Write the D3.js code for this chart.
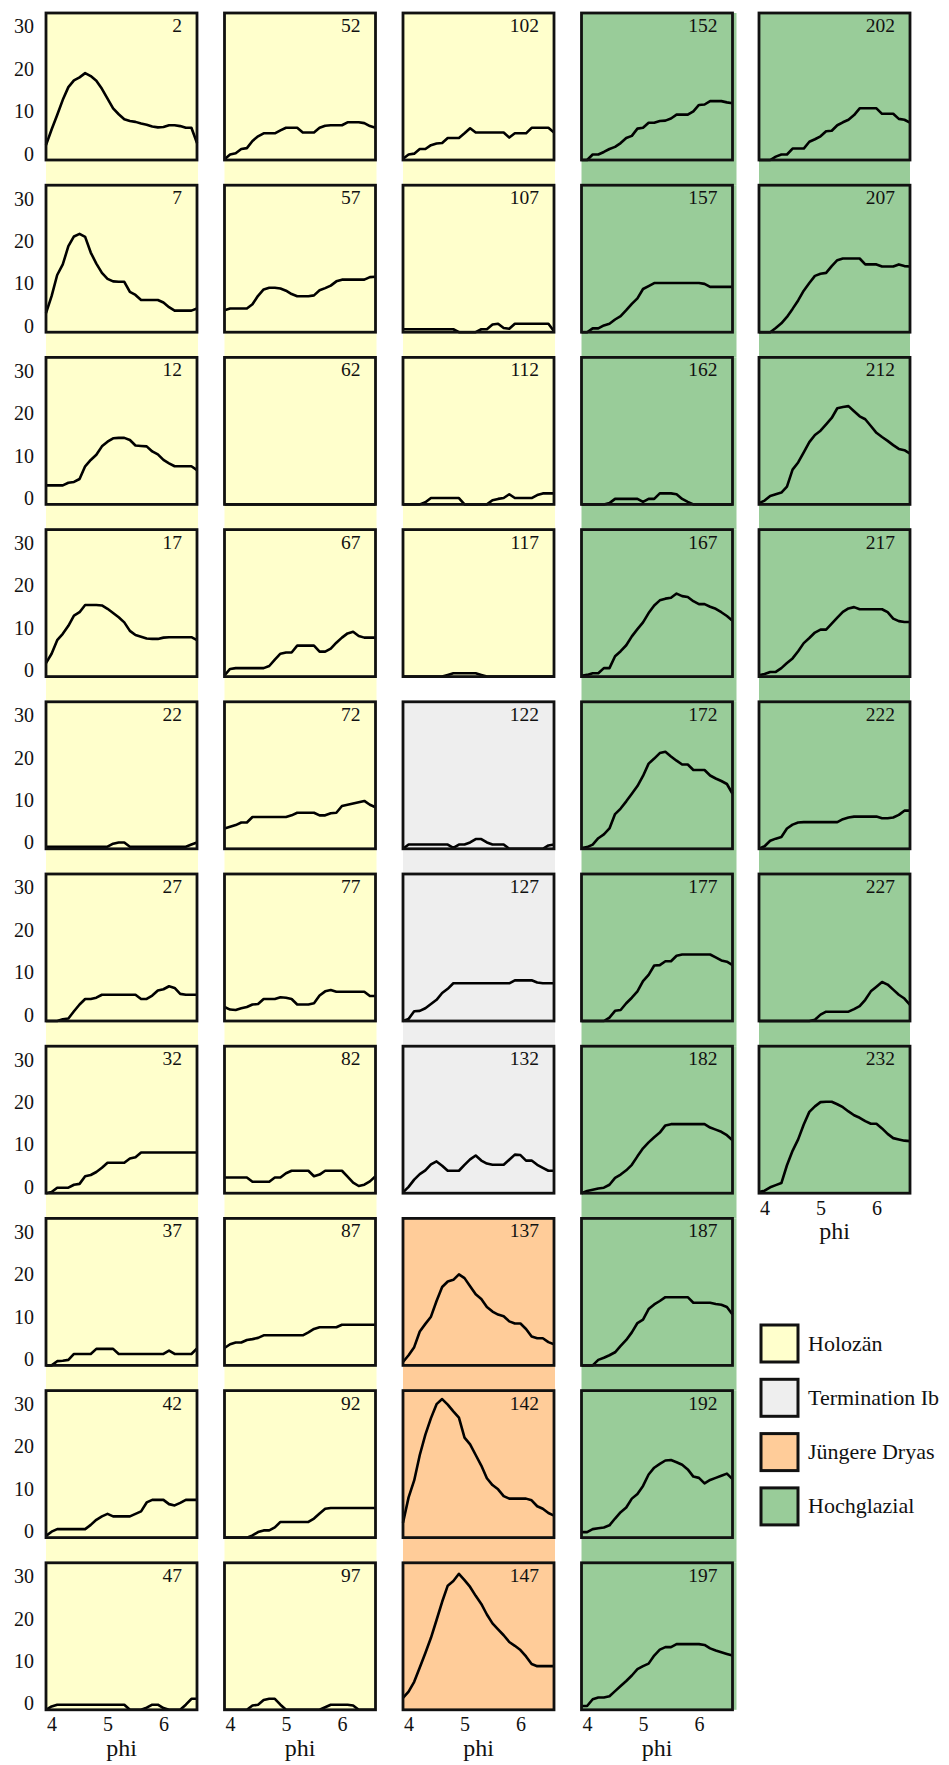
<!DOCTYPE html>
<html><head><meta charset="utf-8">
<script src="https://cdn.jsdelivr.net/npm/d3@7/dist/d3.min.js"></script>
<style>
body{margin:0;background:#fff}
</style>
</head><body>
<svg id="chart" width="949" height="1765" font-family="Liberation Serif, Times New Roman, serif"></svg>
<script>
// phi grid (x values shared by all samples)
const phi = [3.9,4.0,4.1,4.2,4.3,4.4,4.5,4.6,4.7,4.8,4.9,5.0,5.1,5.2,5.3,5.4,5.5,5.6,5.7,5.8,5.9,6.0,6.1,6.2,6.3,6.4,6.5,6.6];
const xTicks = [4,5,6];
const yTicks = [0,10,20,30];
const groupNames = ["Holozän","Termination Ib","Jüngere Dryas","Hochglazial"];
const groupColors = ["#FFFFCC","#EEEEEE","#FFCC99","#99CC99"];
const sampleIds = [2,7,12,17,22,27,32,37,42,47,52,57,62,67,72,77,82,87,92,97,102,107,112,117,122,127,132,137,142,147,152,157,162,167,172,177,182,187,192,197,202,207,212,217,222,227,232];
const sampleGroups = [0,0,0,0,0,0,0,0,0,0, 0,0,0,0,0,0,0,0,0,0, 0,0,0,0,1,1,1,2,2,2, 3,3,3,3,3,3,3,3,3,3, 3,3,3,3,3,3,3];

const s2  = [3.5,7.2,10.6,14.2,17.2,18.8,19.5,20.5,19.8,18.7,16.8,14.5,12.2,10.8,9.6,9.2,9.0,8.6,8.3,7.9,7.7,7.8,8.2,8.2,8.0,7.6,7.6,4.0];
const s7  = [4.5,8.5,13.5,16,20.3,22.6,23.2,22.5,18.8,16.2,14,12.6,12,11.9,11.9,9.5,8.8,7.6,7.6,7.6,7.6,7,5.9,5.1,5.1,5.1,5.1,5.6];
const s12 = [4.5,4.5,4.5,4.5,5.1,5.3,6.0,9.0,10.5,11.7,13.7,14.8,15.6,15.7,15.7,15.2,13.9,13.8,13.7,12.5,11.8,10.5,9.7,9.0,9.0,9.0,9.0,8.1];
const s17 = [3.2,5.4,8.6,10.1,12.0,14.4,15.2,16.9,16.9,16.9,16.8,16.0,15.0,14.0,12.8,10.8,9.8,9.4,9.0,8.9,8.9,9.2,9.3,9.3,9.3,9.3,9.3,8.6];
const s22 = [0.5,0.5,0.5,0.5,0.5,0.5,0.5,0.5,0.5,0.5,0.5,0.5,1.2,1.5,1.5,0.5,0.5,0.5,0.5,0.5,0.5,0.5,0.5,0.5,0.5,0.5,1.0,1.5];
const s27 = [0,0,0,0.4,0.6,2.3,3.9,5.2,5.2,5.5,6.2,6.2,6.2,6.2,6.2,6.2,6.2,5.2,5.2,6.0,7.2,7.5,8.2,7.8,6.4,6.2,6.2,6.2];
const s32 = [0,0.3,1.3,1.3,1.3,2.0,2.2,4.0,4.3,5.0,6.0,7.2,7.2,7.2,7.2,8.2,8.5,9.6,9.6,9.6,9.6,9.6,9.6,9.6,9.6,9.6,9.6,9.6];
const s37 = [0,0,1.0,1.1,1.3,2.7,2.7,2.7,2.7,3.9,3.9,3.9,3.9,2.7,2.7,2.7,2.7,2.7,2.7,2.7,2.7,2.7,3.5,2.7,2.7,2.7,2.7,4.0];
const s42 = [0.4,1.4,2.0,2.0,2.0,2.0,2.0,2.0,3.0,4.2,5.0,5.6,5.0,5.0,5.0,5.0,5.6,6.2,8.3,8.9,8.9,8.9,7.9,7.6,8.2,8.9,8.9,8.9];
const s47 = [0,0.8,1.2,1.2,1.2,1.2,1.2,1.2,1.2,1.2,1.2,1.2,1.2,1.2,1.2,0,0,0,0.5,1.2,1.2,0.4,0,0,0,1.2,2.6,2.6];
const s52 = [0.2,1.3,1.6,2.6,2.8,4.5,5.6,6.3,6.3,6.3,7.0,7.6,7.6,7.6,6.5,6.5,6.5,7.6,8.1,8.2,8.2,8.2,8.9,8.9,8.9,8.7,8.0,7.6];
const s57 = [5.2,5.6,5.6,5.6,5.6,6.6,8.6,10.1,10.5,10.5,10.3,9.8,9.0,8.5,8.5,8.5,8.7,9.9,10.4,11.0,12.0,12.4,12.4,12.4,12.4,12.4,13.0,13.1];
const s62 = [0,0,0,0,0,0,0,0,0,0,0,0,0,0,0,0,0,0,0,0,0,0,0,0,0,0,0,0];
const s67 = [0.3,1.8,2.0,2.0,2.0,2.0,2.0,2.0,2.5,4.0,5.4,5.7,5.7,7.3,7.3,7.3,7.3,5.9,5.9,6.6,8.0,9.2,10.2,10.6,9.6,9.2,9.2,9.2];
const s72 = [4.8,5.2,5.6,6.2,6.2,7.5,7.5,7.5,7.5,7.5,7.5,7.5,7.9,8.5,8.5,8.5,8.5,7.9,7.9,8.4,8.5,10.1,10.4,10.7,11.0,11.3,10.4,9.8];
const s77 = [3.3,2.7,2.6,3.0,3.3,3.9,4.0,5.2,5.2,5.2,5.6,5.5,5.2,3.9,3.9,3.9,4.2,6.0,7.0,7.3,6.9,6.9,6.9,6.9,6.9,6.9,5.9,5.9];
const s82 = [3.7,3.7,3.7,3.7,3.7,2.7,2.7,2.7,2.7,3.7,3.7,4.7,5.3,5.3,5.3,5.3,4.0,4.4,5.3,5.3,5.3,5.3,3.9,2.5,1.7,2.0,2.8,4.0];
const s87 = [4.1,5.0,5.4,5.4,6.0,6.2,6.5,7.1,7.1,7.1,7.1,7.1,7.1,7.1,7.1,7.8,8.6,9.0,9.0,9.0,9.0,9.6,9.6,9.6,9.6,9.6,9.6,9.6];
const s92 = [0,0,0,0,0,0.5,1.3,1.7,1.7,2.4,3.7,3.7,3.7,3.7,3.7,3.7,4.5,5.7,6.8,7.0,7.0,7.0,7.0,7.0,7.0,7.0,7.0,7.0];
const s97 = [0,0,0,0,0,1.0,1.2,2.3,2.6,2.6,1.2,0,0,0,0,0,0,0,0.6,1.2,1.2,1.2,1.2,1.0,0,0,0,0];
const s102 = [0.3,1.3,1.5,2.6,2.6,3.5,3.9,4.0,5.2,5.2,5.2,6.3,7.5,6.5,6.5,6.5,6.5,6.5,6.5,5.3,6.3,6.3,6.3,7.6,7.6,7.6,7.6,6.5];
const s107 = [0.7,0.7,0.7,0.7,0.7,0.7,0.7,0.7,0.7,0.7,0,0,0,0,0.7,0.7,1.8,2.0,1.0,0.8,2.0,2.0,2.0,2.0,2.0,2.0,2.0,0.2];
const s112 = [0,0,0,0,0.5,1.5,1.5,1.5,1.5,1.5,1.5,0,0,0,0,0,1.0,1.3,1.5,2.4,1.5,1.5,1.5,1.5,2.2,2.6,2.6,2.6];
const s117 = [0,0,0,0,0,0,0,0,0.4,0.8,0.8,0.8,0.8,0.8,0.4,0,0,0,0,0,0,0,0,0,0,0,0,0];
const s122 = [0,1.0,1.0,1.0,1.0,1.0,1.0,1.0,1.0,0.2,1.0,1.0,1.5,2.3,2.3,1.5,1.0,1.0,1.0,0,0,0,0,0,0,0,0.8,1.0];
const s127 = [0,0.5,2.3,2.4,3.0,4.0,5.0,6.6,7.6,8.9,8.9,8.9,8.9,8.9,8.9,8.9,8.9,8.9,8.9,8.9,9.6,9.6,9.6,9.6,9.1,8.9,8.9,8.9];
const s132 = [0.2,1.5,3.2,4.5,5.4,6.8,7.5,6.5,5.3,5.3,5.3,6.7,8.0,8.9,7.7,7.0,6.7,6.7,6.7,7.9,9.1,9.0,7.7,7.7,6.7,6.0,5.3,5.3];
const s137 = [0.8,2.4,4.3,8.0,9.8,11.5,15.2,18.5,19.8,20.2,21.5,20.6,18.7,16.8,15.7,13.8,12.7,12.0,11.6,10.4,9.9,9.9,8.6,6.8,6.4,6.4,5.5,5.0];
const s142 = [3.5,9.5,13.5,19.5,24.3,28.2,31.5,32.7,31.4,29.8,28.3,23.6,22.0,19.5,17.0,14.0,12.4,11.4,9.8,9.2,9.2,9.2,9.2,8.8,7.4,6.8,5.8,5.2];
const s147 = [2.8,4.3,6.6,10.0,13.4,17.0,21.2,25.5,29.3,30.4,32.1,30.6,29.0,26.9,25.0,22.5,20.4,19.0,17.6,16.0,15.1,14.1,12.6,10.8,10.3,10.3,10.3,10.3];
const s152 = [0,0,1.3,1.3,1.9,2.6,3.1,4.0,5.2,5.7,7.4,7.6,8.8,8.8,9.2,9.3,9.8,10.7,10.7,10.7,11.5,13.0,13.1,13.9,13.9,13.9,13.6,13.4];
const s157 = [0,0,0.9,0.9,1.6,2.0,3.0,3.8,5.2,6.7,8.0,10.2,10.9,11.6,11.6,11.6,11.6,11.6,11.6,11.6,11.6,11.6,11.4,10.7,10.7,10.7,10.7,10.7];
const s162 = [0,0,0,0,0,0.3,1.3,1.3,1.3,1.3,1.3,0.6,1.3,1.3,2.6,2.6,2.6,2.4,1.3,0.6,0,0,0,0,0,0,0,0];
const s167 = [0.2,0.4,0.8,0.8,2.0,2.0,4.8,6.0,7.4,9.5,11.2,12.8,15.0,16.8,18.0,18.4,18.6,19.6,19.0,18.8,17.8,17.1,17.1,16.5,16.0,15.2,14.3,13.2];
const s172 = [0.2,0.4,1.0,2.5,3.4,4.8,8.2,9.5,11.2,13.0,14.8,17.2,20.1,21.3,22.6,22.9,21.8,20.8,19.9,19.9,18.6,18.6,18.6,17.3,16.6,16.0,15.3,13.0];
const s177 = [0,0,0,0,0,0.8,2.4,2.6,4.2,5.5,7.0,9.4,10.9,13.1,13.2,14.1,14.1,15.4,15.7,15.7,15.7,15.7,15.7,15.7,15.0,14.3,14.0,13.2];
const s182 = [0,0.5,0.8,1.1,1.3,2.0,3.6,4.4,5.4,6.7,8.7,10.6,12.0,13.2,14.3,16.0,16.3,16.3,16.3,16.3,16.3,16.3,16.3,15.5,15.0,14.5,13.7,12.5];
const s187 = [0,0,0,1.3,1.8,2.4,3.1,4.6,6.0,7.8,10.0,10.8,13.3,14.4,15.2,16.1,16.1,16.1,16.1,16.1,14.8,14.8,14.8,14.8,14.5,14.3,13.8,12.0];
const s192 = [1.3,1.3,2.0,2.2,2.4,2.9,4.5,6.0,7.1,9.2,10.3,12.2,14.9,16.5,17.4,18.2,18.3,17.8,17.2,16.1,14.4,14.1,12.8,13.6,14.1,14.6,15.1,13.8];
const s197 = [0.9,0.9,2.5,2.9,2.9,3.2,4.4,5.6,6.8,8.1,9.6,10.3,10.9,12.8,14.2,14.8,14.8,15.5,15.5,15.5,15.5,15.5,15.3,14.5,14.0,13.6,13.2,12.8];
const s202 = [0,0,0,0.8,1.3,1.3,2.7,2.7,2.7,4.3,4.9,5.6,6.8,6.9,8.2,8.9,9.5,10.6,12.2,12.2,12.2,12.2,10.9,10.9,10.9,9.7,9.5,8.8];
const s207 = [0,0,0,1.0,2.1,3.6,5.5,7.5,9.8,11.6,13.3,13.8,14.0,15.6,17.0,17.4,17.4,17.4,17.4,16.0,16.0,16.0,15.5,15.5,15.5,16.0,15.6,15.5];
const s212 = [0.3,0.9,2.0,2.4,2.8,4.2,8.2,9.9,12.3,14.7,16.4,17.4,18.9,20.4,22.7,23.0,23.2,22.0,20.8,20.1,18.5,16.9,15.9,15.0,14.0,13.1,12.8,12.0];
const s217 = [0.3,0.6,1.1,1.1,2.0,3.2,4.3,6.0,7.9,9.1,10.4,11.1,11.1,12.5,13.9,15.3,16.1,16.4,15.9,15.9,15.9,15.9,15.9,15.2,13.7,13.1,12.9,12.9];
const s222 = [0,0.6,1.9,2.4,2.8,4.8,5.7,6.2,6.3,6.3,6.3,6.3,6.3,6.3,6.3,7.0,7.4,7.6,7.6,7.6,7.6,7.6,7.2,7.2,7.4,8.0,9.0,9.0];
const s227 = [0,0,0,0,0,0,0,0,0,0,0.3,1.5,2.2,2.2,2.2,2.2,2.2,2.8,3.5,5.0,7.0,8.1,9.2,8.6,7.4,6.2,5.3,3.8];
const s232 = [0.3,0.6,1.4,1.9,2.4,6.6,10.0,12.7,16.2,19.2,20.5,21.5,21.6,21.6,21.0,20.3,19.3,18.4,17.8,17.0,16.4,16.4,15.3,14.0,13.0,12.7,12.4,12.3];

const seriesList = [s2,s7,s12,s17,s22,s27,s32,s37,s42,s47,s52,s57,s62,s67,s72,s77,s82,s87,s92,s97,
  s102,s107,s112,s117,s122,s127,s132,s137,s142,s147,s152,s157,s162,s167,s172,s177,s182,s187,s192,s197,
  s202,s207,s212,s217,s222,s227,s232];

// ---- layout ----
const FONT = "'Liberation Serif', 'Times New Roman', 'DejaVu Serif', serif";
const colLeft = [46, 224.5, 403, 581.5, 759];
const bgExtra = [1, 1, 1, 4, 0];
const panelW = 151, panelH = 147;
const rowTop0 = 13, rowStep = 172.2;
const rowsPerCol = 10;

const svg = d3.select("#chart");
const x = d3.scaleLinear().domain([3.9, 6.6]).range([0, panelW]);
const y = d3.scaleLinear().domain([0, 34.7]).range([panelH, 0]);
const line = d3.line().x((d, i) => x(phi[i])).y(d => y(d));

const bgLayer = svg.append("g");
const panelLayer = svg.append("g");

sampleIds.forEach((id, i) => {
  const c = Math.floor(i / rowsPerCol), r = i % rowsPerCol;
  const left = colLeft[c], top = rowTop0 + r * rowStep;
  const grp = sampleGroups[i];
  const nextSameCol = (i + 1 < sampleIds.length) && Math.floor((i + 1) / rowsPerCol) === c;
  const extend = nextSameCol && sampleGroups[i + 1] === grp;
  const h = extend ? rowStep : panelH;
  bgLayer.append("rect")
    .attr("x", left).attr("y", top)
    .attr("width", panelW + bgExtra[c]).attr("height", h)
    .attr("fill", groupColors[grp]);

  const g = panelLayer.append("g").attr("transform", `translate(${left},${top})`);
  g.append("path").datum(seriesList[i])
    .attr("d", line)
    .attr("fill", "none").attr("stroke", "#000")
    .attr("stroke-width", 2.6).attr("stroke-linejoin", "round");
  g.append("rect").attr("x", 0).attr("y", 0).attr("width", panelW).attr("height", panelH)
    .attr("fill", "none").attr("stroke", "#111").attr("stroke-width", 2.8);
  g.append("text").attr("x", 136).attr("y", 19).attr("text-anchor", "end")
    .attr("font-size", 19.5).text(id);

  if (c === 0) {
    const ax = g.append("g").call(d3.axisLeft(y).tickValues(yTicks).tickSize(0).tickPadding(12).tickFormat(d3.format("d")));
    ax.select(".domain").remove();
    ax.attr("font-family", FONT).attr("font-size", 20);
    ax.selectAll("text").attr("dy", "0").attr("fill", "#111");
  }
  if (!nextSameCol) {
    const ax = g.append("g").attr("transform", `translate(0,${panelH})`)
      .call(d3.axisBottom(x).tickValues(xTicks).tickSize(0).tickFormat(d3.format("d")));
    ax.select(".domain").remove();
    ax.attr("font-family", FONT).attr("font-size", 20);
    ax.selectAll("text").attr("y", 21.5).attr("dy", "0").attr("fill", "#111");
    g.append("text").attr("x", panelW / 2).attr("y", panelH + 46).attr("text-anchor", "middle")
      .attr("font-size", 24).text("phi");
  }
});

// ---- legend ----
const legend = svg.append("g").attr("transform", "translate(761,1325)");
groupNames.forEach((name, k) => {
  const gy = k * 54.3;
  legend.append("rect").attr("x", 0).attr("y", gy).attr("width", 37).attr("height", 37)
    .attr("fill", groupColors[k]).attr("stroke", "#111").attr("stroke-width", 3);
  legend.append("text").attr("x", 47).attr("y", gy + 25.5).attr("font-size", 22).text(name);
});

svg.selectAll("text").attr("font-family", FONT).style("font-family", FONT).attr("fill", "#111");
</script>
</body></html>
